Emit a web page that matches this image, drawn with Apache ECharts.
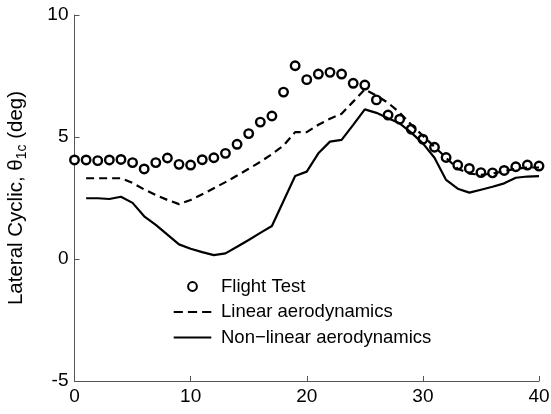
<!DOCTYPE html>
<html>
<head>
<meta charset="utf-8">
<script src="https://cdn.jsdelivr.net/npm/echarts@6/dist/echarts.min.js"></script>
<style>
  html, body { margin: 0; padding: 0; background: #fff; }
  #chart { width: 551px; height: 414px; }
</style>
</head>
<body>
<div id="chart"></div>
<script>
// Time axis for the flight-test samples and the simulation outputs
const timeFlight = [0, 1, 2, 3, 4, 5, 6, 7, 8, 9, 10, 11, 12, 13, 14, 15, 16, 17, 18, 19, 20,
  21, 22, 23, 24, 25, 26, 27, 28, 29, 30, 31, 32, 33, 34, 35, 36, 37, 38, 39, 40];
const timeModel = [1, 2, 3, 4, 5, 6, 7, 8, 9, 10, 11, 12, 13, 14, 15, 16, 17, 18, 19, 20,
  21, 22, 23, 24, 25, 26, 27, 28, 29, 30, 31, 32, 33, 34, 35, 36, 37, 38, 39, 40];

// Lateral cyclic (deg)
const flightTest = [4.06, 4.06, 4.03, 4.06, 4.08, 3.95, 3.69, 3.95, 4.14, 3.88, 3.85,
  4.07, 4.15, 4.33, 4.70, 5.14, 5.61, 5.86, 6.84, 7.92, 7.35,
  7.58, 7.65, 7.58, 7.20, 7.13, 6.52, 5.90, 5.73, 5.32, 4.91,
  4.58, 4.16, 3.85, 3.71, 3.54, 3.53, 3.63, 3.78, 3.85, 3.81];
const linearAero = [3.31, 3.31, 3.31, 3.31, 3.12, 2.85, 2.62, 2.42, 2.25, 2.42,
  2.65, 2.90, 3.15, 3.42, 3.70, 3.98, 4.30, 4.65, 5.20, 5.20,
  5.50, 5.75, 5.95, 6.45, 6.95, 6.70, 6.40, 6.00, 5.50, 5.05,
  4.60, 4.15, 3.70, 3.50, 3.45, 3.50, 3.60, 3.70, 3.75, 3.75];
const nonlinearAero = [2.49, 2.49, 2.46, 2.55, 2.30, 1.75, 1.40, 1.00, 0.60, 0.42,
  0.28, 0.16, 0.23, 0.50, 0.78, 1.07, 1.35, 2.38, 3.40, 3.58,
  4.33, 4.81, 4.88, 5.50, 6.13, 5.99, 5.77, 5.56, 5.18, 4.74,
  4.15, 3.24, 2.88, 2.72, 2.84, 2.96, 3.10, 3.33, 3.38, 3.40];

const seriesNames = ['Flight Test', 'Linear aerodynamics', 'Non\u2212linear aerodynamics'];
const xTicks = [0, 10, 20, 30, 40];
const yTicks = [-5, 0, 5, 10];

const pairs = (xs, ys) => xs.map((x, i) => [x, ys[i]]);

const FONT = '"Liberation Sans", Arial, Helvetica, sans-serif';
const axisGray = '#555';

// Legend glyphs: a 41x12 box holding either a dashed or a solid stroke.
// Tiny corner specks fix the bounding box so the stroke keeps its thickness.
const corners = 'M0,0h0.01v0.01h-0.01z M40.99,11.99h0.01v0.01h-0.01z ';
const dashedIcon = 'path://' + corners + 'M0,5h10v2.2h-10z M15.5,5h10v2.2h-10z M31,5h10v2.2h-10z';
const solidIcon = 'path://' + corners + 'M0,5h41v2.2h-41z';

const chart = echarts.init(document.getElementById('chart'), null, { renderer: 'canvas' });
chart.setOption({
  backgroundColor: '#fff',
  animation: false,
  textStyle: { fontFamily: FONT, color: '#000' },
  grid: {
    left: 74.5, right: 12, top: 15, bottom: 33,
    containLabel: false,
    outerBoundsMode: 'none'
  },
  xAxis: {
    type: 'value',
    min: xTicks[0], max: xTicks[xTicks.length - 1], interval: 10,
    axisLine: { show: true, onZero: false, lineStyle: { color: axisGray, width: 1 } },
    axisTick: { show: true, inside: true, length: 5, lineStyle: { color: axisGray } },
    axisLabel: { fontSize: 19, color: '#000', margin: 6, fontFamily: FONT },
    splitLine: { show: false }
  },
  yAxis: {
    type: 'value',
    min: yTicks[0], max: yTicks[yTicks.length - 1], interval: 5,
    axisLine: { show: true, onZero: false, lineStyle: { color: axisGray, width: 1 } },
    axisTick: { show: true, inside: true, length: 5, lineStyle: { color: axisGray } },
    axisLabel: { fontSize: 19, color: '#000', margin: 6, fontFamily: FONT },
    splitLine: { show: false },
    name: 'Lateral Cyclic, \u03B8{sub|1c} (deg)',
    nameLocation: 'middle',
    nameGap: 45,
    nameRotate: 90,
    nameTextStyle: {
      fontSize: 20.5, color: '#000', fontFamily: FONT, lineHeight: 26,
      rich: {
        sub: { fontSize: 14, fontFamily: FONT, color: '#000', lineHeight: 26, padding: [11, 0, 0, 0] }
      }
    }
  },
  legend: {
    orient: 'vertical',
    left: 167, top: 271.5,
    itemWidth: 41, itemHeight: 11,
    itemGap: 5.5,
    textStyle: { fontSize: 18.5, color: '#000', fontFamily: FONT, lineHeight: 20, padding: [0, 0, 0, 3] },
    data: [
      { name: seriesNames[0] },
      { name: seriesNames[1], icon: dashedIcon, itemStyle: { color: '#000', borderWidth: 0 } },
      { name: seriesNames[2], icon: solidIcon, itemStyle: { color: '#000', borderWidth: 0 } }
    ]
  },
  series: [
    {
      name: seriesNames[0],
      type: 'line',
      data: pairs(timeFlight, flightTest),
      symbol: 'circle',
      symbolSize: 8.5,
      showSymbol: true,
      lineStyle: { width: 0, opacity: 0 },
      itemStyle: { color: '#fff', borderColor: '#000', borderWidth: 2.4 },
      z: 2
    },
    {
      name: seriesNames[1],
      type: 'line',
      data: pairs(timeModel, linearAero),
      symbol: 'none',
      lineStyle: { color: '#000', width: 2.2, type: [8, 5] },
      itemStyle: { color: '#000' },
      z: 3
    },
    {
      name: seriesNames[2],
      type: 'line',
      data: pairs(timeModel, nonlinearAero),
      symbol: 'none',
      lineStyle: { color: '#000', width: 2.2 },
      itemStyle: { color: '#000' },
      z: 3
    }
  ]
});
</script>
</body>
</html>
